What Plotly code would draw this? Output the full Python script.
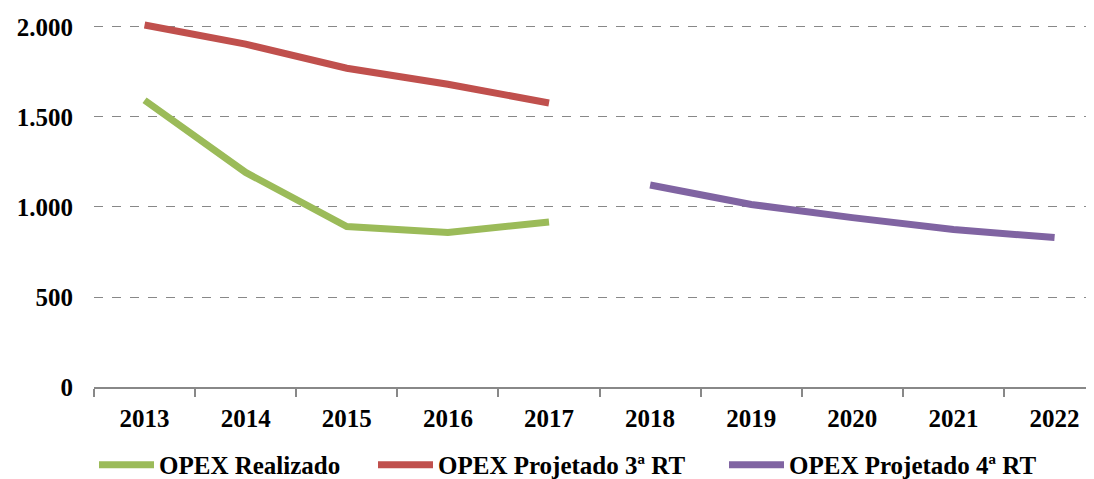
import plotly.graph_objects as go

years = ["2013", "2014", "2015", "2016", "2017", "2018", "2019", "2020", "2021", "2022"]
realizado = [1593, 1192, 891, 858, 917, None, None, None, None, None]
proj_3rt = [2011, 1905, 1771, 1682, 1578, None, None, None, None, None]
proj_4rt = [None, None, None, None, None, 1122, 1014, 941, 875, 830]
y_ticks = [0, 500, 1000, 1500, 2000]
y_labels = ["0", "500", "1.000", "1.500", "2.000"]

FONT = "'Liberation Serif', 'Times New Roman', serif"
FS = 25

fig = go.Figure()
fig.add_trace(go.Scatter(x=years, y=realizado, mode="lines", name="OPEX Realizado",
                         line=dict(color="#9BBB59", width=7), cliponaxis=False,
                         legend="legend"))
fig.add_trace(go.Scatter(x=years, y=proj_3rt, mode="lines", name="OPEX Projetado 3ª RT",
                         line=dict(color="#C0504D", width=7), cliponaxis=False,
                         legend="legend2"))
fig.add_trace(go.Scatter(x=years, y=proj_4rt, mode="lines", name="OPEX Projetado 4ª RT",
                         line=dict(color="#8064A2", width=7), cliponaxis=False,
                         legend="legend3"))

leg_common = dict(orientation="h", xanchor="left", y=-0.210, yanchor="middle",
                  font=dict(family=FONT, size=FS, color="black", weight="bold"),
                  itemwidth=55, bgcolor="rgba(0,0,0,0)")

fig.update_layout(
    width=1086, height=471,
    margin=dict(l=86, r=0, t=8, b=92, autoexpand=False),
    paper_bgcolor="white", plot_bgcolor="white",
    font=dict(family=FONT, size=FS, color="black", weight="bold"),
    showlegend=True,
    legend=dict(x=0.0, **leg_common),
    legend2=dict(x=0.279, **leg_common),
    legend3=dict(x=0.630, **leg_common),
)
fig.update_xaxes(
    type="category", range=[-0.5, 9.39], automargin=False,
    showline=True, linecolor="#888888", linewidth=1.5,
    ticks="outside", tickson="boundaries", ticklen=8, tickcolor="#888888", tickwidth=1.5,
    showgrid=False, ticklabelstandoff=8,
    tickfont=dict(family=FONT, size=FS, color="black", weight="bold"),
)
fig.update_yaxes(
    range=[0, 2061], tickvals=y_ticks, ticktext=y_labels, automargin=False,
    showgrid=True, gridcolor="#888888", griddash="dash", gridwidth=1,
    showline=False, zeroline=False, ticks="", ticklabelstandoff=20,
    tickfont=dict(family=FONT, size=FS, color="black", weight="bold"),
)

fig.write_html("out.html")
